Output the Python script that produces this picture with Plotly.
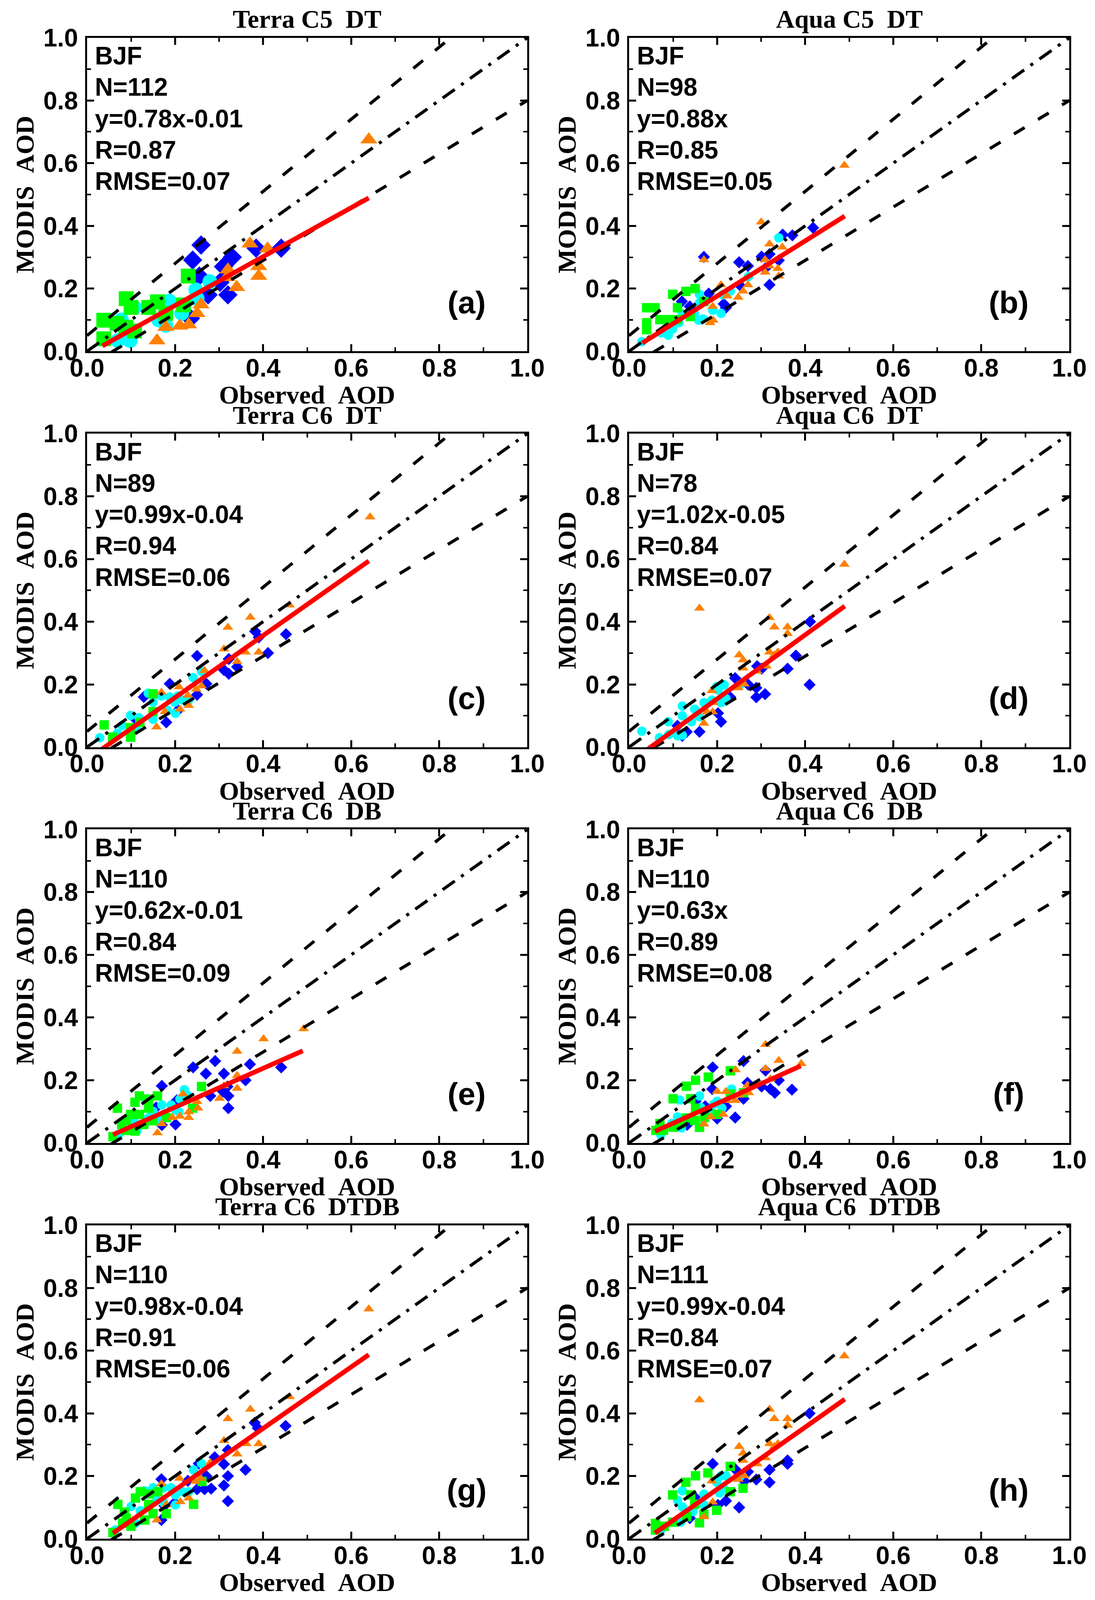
import plotly.graph_objects as go

# panel texts
TITLES = ["Terra C5  DT", "Aqua C5  DT", "Terra C6  DT", "Aqua C6  DT",
          "Terra C6  DB", "Aqua C6  DB", "Terra C6  DTDB", "Aqua C6  DTDB"]
LABELS = ["(a)", "(b)", "(c)", "(d)", "(e)", "(f)", "(g)", "(h)"]
SITE = "BJF"
N_VALUES = [112, 98, 89, 78, 110, 110, 110, 111]
EQUATIONS = ["y=0.78x-0.01", "y=0.88x", "y=0.99x-0.04", "y=1.02x-0.05",
             "y=0.62x-0.01", "y=0.63x", "y=0.98x-0.04", "y=0.99x-0.04"]
R_VALUES = ["0.87", "0.85", "0.94", "0.84", "0.84", "0.89", "0.91", "0.84"]
RMSE_VALUES = ["0.07", "0.05", "0.06", "0.07", "0.09", "0.08", "0.06", "0.07"]

# regression lines
FIT_SLOPE = [0.78, 0.88, 0.99, 1.02, 0.62, 0.63, 0.98, 0.99]
FIT_INTERCEPT = [-0.01, 0.0, -0.04, -0.05, -0.01, 0.0, -0.04, -0.04]
FIT_XMIN = [0.035, 0.03, 0.03, 0.03, 0.059, 0.059, 0.059, 0.059]
FIT_XMAX = [0.64, 0.49, 0.64, 0.49, 0.49, 0.39, 0.64, 0.49]

# expected error envelope +-(0.05+0.15*AOD)
EE_A = 0.05
EE_B = 0.15

# (a) Terra C5 DT
A_SQ_X = [0.038, 0.038, 0.089, 0.068, 0.088, 0.108, 0.16, 0.14, 0.179, 0.219, 0.23, 0.10]
A_SQ_Y = [0.040, 0.099, 0.168, 0.089, 0.077, 0.065, 0.158, 0.14, 0.121, 0.148, 0.24, 0.14]
A_CI_X = [0.07, 0.098, 0.108, 0.078, 0.179, 0.187, 0.215, 0.247, 0.25, 0.279, 0.163]
A_CI_Y = [0.034, 0.034, 0.14, 0.10, 0.083, 0.16, 0.121, 0.196, 0.168, 0.222, 0.10]
A_DI_X = [0.259, 0.24, 0.255, 0.275, 0.32, 0.31, 0.33, 0.384, 0.441, 0.302, 0.235]
A_DI_Y = [0.339, 0.291, 0.24, 0.18, 0.18, 0.27, 0.30, 0.329, 0.329, 0.22, 0.105]
A_TR_X = [0.159, 0.37, 0.41, 0.39, 0.39, 0.32, 0.318, 0.34, 0.259, 0.25, 0.231, 0.211, 0.179, 0.64]
A_TR_Y = [0.034, 0.343, 0.327, 0.271, 0.24, 0.26, 0.236, 0.204, 0.149, 0.121, 0.085, 0.081, 0.077, 0.675]

# (b) Aqua C5 DT
B_SQ_X = [0.040, 0.059, 0.040, 0.040, 0.070, 0.089, 0.110, 0.099, 0.129, 0.150, 0.110, 0.139, 0.170]
B_SQ_Y = [0.139, 0.139, 0.091, 0.069, 0.101, 0.101, 0.101, 0.182, 0.191, 0.200, 0.139, 0.111, 0.159]
B_CI_X = [0.029, 0.073, 0.089, 0.099, 0.113, 0.121, 0.149, 0.160, 0.158, 0.168, 0.160, 0.190, 0.209,
          0.213, 0.230, 0.271, 0.340]
B_CI_Y = [0.031, 0.059, 0.051, 0.071, 0.091, 0.119, 0.119, 0.182, 0.099, 0.103, 0.155, 0.131, 0.121,
          0.180, 0.192, 0.238, 0.362]
B_DI_X = [0.120, 0.138, 0.170, 0.181, 0.215, 0.220, 0.250, 0.270, 0.252, 0.301, 0.319, 0.309, 0.340,
          0.349, 0.371, 0.418, 0.319]
B_DI_Y = [0.159, 0.143, 0.301, 0.184, 0.151, 0.139, 0.284, 0.272, 0.210, 0.302, 0.310, 0.264, 0.290,
          0.372, 0.370, 0.394, 0.212]
B_TR_X = [0.489, 0.300, 0.170, 0.319, 0.348, 0.309, 0.319, 0.338, 0.309, 0.340, 0.270, 0.209, 0.259,
          0.223, 0.248, 0.190, 0.184, 0.191]
B_TR_Y = [0.593, 0.412, 0.292, 0.342, 0.332, 0.292, 0.272, 0.264, 0.252, 0.240, 0.212, 0.212, 0.192,
          0.176, 0.172, 0.143, 0.091, 0.099]

# (c) Terra C6 DT
C_SQ_X = [0.039, 0.058, 0.099, 0.099, 0.120, 0.150, 0.150]
C_SQ_Y = [0.071, 0.032, 0.032, 0.062, 0.079, 0.170, 0.113]
C_CI_X = [0.029, 0.069, 0.080, 0.099, 0.118, 0.111, 0.139, 0.150, 0.150, 0.169, 0.182, 0.201, 0.188,
          0.199, 0.218, 0.231, 0.241, 0.260, 0.207]
C_CI_Y = [0.030, 0.044, 0.069, 0.101, 0.094, 0.062, 0.172, 0.143, 0.089, 0.163, 0.118, 0.108, 0.160,
          0.143, 0.150, 0.150, 0.222, 0.241, 0.163]
C_DI_X = [0.129, 0.109, 0.180, 0.188, 0.207, 0.250, 0.271, 0.250, 0.322, 0.311, 0.322, 0.341, 0.382,
          0.390, 0.452, 0.411]
C_DI_Y = [0.160, 0.091, 0.079, 0.202, 0.118, 0.291, 0.202, 0.167, 0.281, 0.246, 0.234, 0.256, 0.369,
          0.350, 0.360, 0.300]
C_TR_X = [0.643, 0.460, 0.371, 0.320, 0.311, 0.360, 0.390, 0.341, 0.267, 0.209, 0.260, 0.248, 0.169,
          0.229, 0.231, 0.211, 0.158, 0.177]
C_TR_Y = [0.734, 0.453, 0.414, 0.382, 0.313, 0.303, 0.303, 0.273, 0.244, 0.192, 0.195, 0.185, 0.175,
          0.165, 0.133, 0.121, 0.064, 0.113]

# (d) Aqua C6 DT
D_SQ_X = []
D_SQ_Y = []
D_CI_X = [0.029, 0.069, 0.089, 0.090, 0.110, 0.121, 0.121, 0.121, 0.149, 0.142, 0.160, 0.170, 0.188,
          0.202, 0.216, 0.220, 0.209, 0.252, 0.199]
D_CI_Y = [0.051, 0.030, 0.081, 0.040, 0.036, 0.038, 0.131, 0.100, 0.121, 0.081, 0.097, 0.142, 0.150,
          0.182, 0.199, 0.155, 0.142, 0.199, 0.193]
D_DI_X = [0.110, 0.121, 0.131, 0.160, 0.202, 0.209, 0.230, 0.241, 0.271, 0.289, 0.289, 0.309, 0.291,
          0.301, 0.360, 0.379, 0.410, 0.411]
D_DI_Y = [0.068, 0.036, 0.049, 0.049, 0.108, 0.081, 0.159, 0.220, 0.199, 0.189, 0.159, 0.169, 0.258,
          0.250, 0.250, 0.292, 0.199, 0.400]
D_TR_X = [0.489, 0.160, 0.319, 0.330, 0.360, 0.360, 0.250, 0.259, 0.259, 0.319, 0.338, 0.330, 0.312,
          0.291, 0.262, 0.248, 0.188, 0.191, 0.177, 0.190, 0.170]
D_TR_Y = [0.583, 0.443, 0.413, 0.383, 0.383, 0.362, 0.294, 0.278, 0.252, 0.303, 0.303, 0.294, 0.258,
          0.242, 0.201, 0.189, 0.180, 0.142, 0.112, 0.112, 0.076]

# (e) Terra C6 DB
E_SQ_X = [0.059, 0.069, 0.079, 0.090, 0.099, 0.089, 0.119, 0.109, 0.119, 0.140, 0.140, 0.160, 0.129,
          0.150, 0.180, 0.260, 0.240, 0.109]
E_SQ_Y = [0.020, 0.111, 0.059, 0.040, 0.091, 0.071, 0.091, 0.130, 0.150, 0.140, 0.111, 0.150, 0.059,
          0.071, 0.081, 0.180, 0.111, 0.038]
E_CI_X = [0.072, 0.113, 0.119, 0.107, 0.140, 0.150, 0.163, 0.170, 0.191, 0.201, 0.209, 0.211, 0.221,
          0.228, 0.133]
E_CI_Y = [0.028, 0.038, 0.055, 0.067, 0.081, 0.101, 0.073, 0.121, 0.121, 0.105, 0.099, 0.140, 0.170,
          0.152, 0.140]
E_DI_X = [0.170, 0.241, 0.270, 0.291, 0.311, 0.370, 0.441, 0.360, 0.319, 0.280, 0.321, 0.309, 0.321,
          0.201, 0.170, 0.204, 0.157]
E_DI_Y = [0.182, 0.241, 0.221, 0.261, 0.221, 0.251, 0.241, 0.200, 0.180, 0.150, 0.150, 0.164, 0.111,
          0.059, 0.057, 0.136, 0.113]
E_TR_X = [0.492, 0.401, 0.341, 0.341, 0.341, 0.311, 0.301, 0.250, 0.252, 0.231, 0.231, 0.211, 0.194,
          0.170, 0.160, 0.218]
E_TR_Y = [0.364, 0.332, 0.292, 0.215, 0.174, 0.182, 0.142, 0.132, 0.111, 0.099, 0.081, 0.085, 0.081,
          0.061, 0.032, 0.156]

# (f) Aqua C6 DB
F_SQ_X = [0.061, 0.078, 0.070, 0.100, 0.119, 0.130, 0.149, 0.160, 0.151, 0.171, 0.100, 0.140, 0.130,
          0.151, 0.180, 0.230, 0.200, 0.260, 0.230]
F_SQ_Y = [0.040, 0.040, 0.062, 0.050, 0.062, 0.080, 0.072, 0.050, 0.111, 0.081, 0.141, 0.141, 0.181,
          0.200, 0.210, 0.230, 0.091, 0.160, 0.156]
F_CI_X = [0.072, 0.097, 0.119, 0.110, 0.115, 0.160, 0.163, 0.173, 0.192, 0.200, 0.211, 0.233, 0.187]
F_CI_Y = [0.026, 0.062, 0.048, 0.083, 0.137, 0.150, 0.113, 0.097, 0.123, 0.133, 0.111, 0.172, 0.097]
F_DI_X = [0.190, 0.260, 0.189, 0.151, 0.173, 0.220, 0.200, 0.241, 0.260, 0.269, 0.301, 0.321, 0.331,
          0.340, 0.370, 0.310, 0.132]
F_DI_Y = [0.241, 0.261, 0.172, 0.133, 0.117, 0.117, 0.078, 0.081, 0.141, 0.192, 0.180, 0.172, 0.160,
          0.200, 0.170, 0.231, 0.058]
F_TR_X = [0.310, 0.340, 0.391, 0.310, 0.321, 0.242, 0.269, 0.272, 0.200, 0.220, 0.241, 0.223, 0.214,
          0.186, 0.170, 0.250]
F_TR_Y = [0.314, 0.263, 0.253, 0.237, 0.204, 0.233, 0.184, 0.160, 0.164, 0.164, 0.135, 0.135, 0.091,
          0.083, 0.060, 0.152]

# (g) Terra C6 DTDB
G_SQ_X = [0.059, 0.070, 0.081, 0.089, 0.100, 0.110, 0.121, 0.131, 0.140, 0.140, 0.150, 0.161, 0.180,
          0.242, 0.261, 0.085]
G_SQ_Y = [0.020, 0.110, 0.050, 0.065, 0.040, 0.130, 0.150, 0.060, 0.110, 0.143, 0.080, 0.150, 0.080,
          0.110, 0.183, 0.085]
G_CI_X = [0.064, 0.100, 0.121, 0.110, 0.131, 0.150, 0.159, 0.174, 0.191, 0.201, 0.201, 0.218, 0.231,
          0.242, 0.260, 0.174]
G_CI_Y = [0.028, 0.103, 0.090, 0.050, 0.153, 0.163, 0.123, 0.163, 0.163, 0.108, 0.140, 0.150, 0.150,
          0.220, 0.240, 0.115]
G_DI_X = [0.381, 0.388, 0.451, 0.320, 0.290, 0.311, 0.360, 0.320, 0.311, 0.282, 0.267, 0.250, 0.271,
          0.254, 0.169, 0.229, 0.320, 0.169, 0.176, 0.199]
G_DI_Y = [0.370, 0.353, 0.360, 0.283, 0.260, 0.238, 0.220, 0.200, 0.170, 0.160, 0.158, 0.158, 0.200,
          0.240, 0.190, 0.185, 0.120, 0.060, 0.105, 0.115]
G_TR_X = [0.640, 0.460, 0.371, 0.320, 0.311, 0.362, 0.390, 0.341, 0.280, 0.210, 0.258, 0.246, 0.169,
          0.231, 0.212, 0.180, 0.159]
G_TR_Y = [0.733, 0.453, 0.413, 0.383, 0.313, 0.303, 0.303, 0.270, 0.243, 0.193, 0.193, 0.183, 0.175,
          0.130, 0.118, 0.108, 0.060]

# (h) Aqua C6 DTDB
H_SQ_X = [0.060, 0.060, 0.080, 0.099, 0.129, 0.151, 0.179, 0.230, 0.140, 0.149, 0.160, 0.170, 0.131,
          0.199, 0.230, 0.259, 0.099]
H_SQ_Y = [0.049, 0.028, 0.040, 0.140, 0.180, 0.201, 0.210, 0.231, 0.140, 0.110, 0.051, 0.078, 0.070,
          0.091, 0.150, 0.161, 0.053]
H_CI_X = [0.071, 0.117, 0.110, 0.121, 0.121, 0.145, 0.170, 0.170, 0.199, 0.206, 0.220, 0.209, 0.252,
          0.216]
H_CI_Y = [0.025, 0.053, 0.123, 0.153, 0.102, 0.087, 0.142, 0.108, 0.180, 0.146, 0.201, 0.201, 0.199,
          0.159]
H_DI_X = [0.410, 0.360, 0.360, 0.319, 0.319, 0.289, 0.270, 0.241, 0.190, 0.262, 0.220, 0.250, 0.202,
          0.149, 0.138]
H_DI_Y = [0.400, 0.250, 0.239, 0.220, 0.180, 0.189, 0.214, 0.222, 0.239, 0.184, 0.121, 0.100, 0.108,
          0.133, 0.066]
H_TR_X = [0.489, 0.160, 0.319, 0.330, 0.360, 0.360, 0.250, 0.259, 0.259, 0.319, 0.338, 0.330, 0.310,
          0.291, 0.262, 0.248, 0.188, 0.190, 0.170]
H_TR_Y = [0.583, 0.443, 0.413, 0.383, 0.383, 0.362, 0.294, 0.273, 0.250, 0.303, 0.303, 0.294, 0.258,
          0.239, 0.201, 0.189, 0.184, 0.117, 0.070]

PANELS = [
    (A_SQ_X, A_SQ_Y, A_CI_X, A_CI_Y, A_DI_X, A_DI_Y, A_TR_X, A_TR_Y),
    (B_SQ_X, B_SQ_Y, B_CI_X, B_CI_Y, B_DI_X, B_DI_Y, B_TR_X, B_TR_Y),
    (C_SQ_X, C_SQ_Y, C_CI_X, C_CI_Y, C_DI_X, C_DI_Y, C_TR_X, C_TR_Y),
    (D_SQ_X, D_SQ_Y, D_CI_X, D_CI_Y, D_DI_X, D_DI_Y, D_TR_X, D_TR_Y),
    (E_SQ_X, E_SQ_Y, E_CI_X, E_CI_Y, E_DI_X, E_DI_Y, E_TR_X, E_TR_Y),
    (F_SQ_X, F_SQ_Y, F_CI_X, F_CI_Y, F_DI_X, F_DI_Y, F_TR_X, F_TR_Y),
    (G_SQ_X, G_SQ_Y, G_CI_X, G_CI_Y, G_DI_X, G_DI_Y, G_TR_X, G_TR_Y),
    (H_SQ_X, H_SQ_Y, H_CI_X, H_CI_Y, H_DI_X, H_DI_Y, H_TR_X, H_TR_Y),
]

GREEN = "#00FF00"
CYAN = "#00FFFF"
BLUE = "#0000FF"
ORANGE = "#FF8000"
RED = "#FF0000"

SANS = "Liberation Sans, Arial, sans-serif"
SERIF = "Liberation Serif, Times New Roman, serif"

# reference frame in pixels; the figure itself fills the page
W, H = 2804, 4280
PLOT_L, PLOT_T, PLOT_W, PLOT_H = 216, 93, 1134, 842
COL_STEP, ROW_STEP = 1396, 1063


def fx(px):
    return px / W


def fy(py):
    return 1 - py / H


fig = go.Figure()
layout = dict(margin=dict(l=0, r=0, t=0, b=0, autoexpand=False),
              paper_bgcolor="white", plot_bgcolor="white", showlegend=False)
annotations = []

for i, data in enumerate(PANELS):
    row, col = divmod(i, 2)
    n = i + 1
    xa, ya = f"x{n}", f"y{n}"
    sq_x, sq_y, ci_x, ci_y, di_x, di_y, tr_x, tr_y = data
    msize = 38 if i == 0 else 24

    # scatter points
    for xs, ys, sym, color in [(di_x, di_y, "diamond", BLUE),
                               (ci_x, ci_y, "circle", CYAN),
                               (sq_x, sq_y, "square", GREEN),
                               (tr_x, tr_y, "triangle-up", ORANGE)]:
        fig.add_trace(go.Scatter(x=xs, y=ys, mode="markers", xaxis=xa, yaxis=ya,
                                 marker=dict(symbol=sym, size=msize, color=color,
                                             line=dict(width=0))))

    # 1:1 line and EE envelope
    fig.add_trace(go.Scatter(x=[0, 1], y=[EE_A, EE_A + (1 + EE_B)], mode="lines",
                             xaxis=xa, yaxis=ya,
                             line=dict(color="black", width=8, dash="32px,40px")))
    fig.add_trace(go.Scatter(x=[0, 1], y=[-EE_A, (1 - EE_B) - EE_A], mode="lines",
                             xaxis=xa, yaxis=ya,
                             line=dict(color="black", width=8, dash="32px,40px")))
    fig.add_trace(go.Scatter(x=[0, 1], y=[0, 1], mode="lines", xaxis=xa, yaxis=ya,
                             line=dict(color="black", width=8, dash="38px,20px,8px,20px")))

    # regression line
    fit_x = [FIT_XMIN[i], FIT_XMAX[i]]
    fit_y = [FIT_SLOPE[i] * v + FIT_INTERCEPT[i] for v in fit_x]
    fig.add_trace(go.Scatter(x=fit_x, y=fit_y, mode="lines", xaxis=xa, yaxis=ya,
                             line=dict(color=RED, width=12)))

    left = PLOT_L + col * COL_STEP
    top = PLOT_T + row * ROW_STEP
    axis_common = dict(range=[0, 1], showline=True, linewidth=5, linecolor="black",
                       mirror="ticks", ticks="inside", ticklen=18, tickwidth=5,
                       tickcolor="black", tick0=0, dtick=0.2, tickformat=".1f",
                       minor=dict(dtick=0.1, ticks="inside", ticklen=10, tickwidth=4,
                                  tickcolor="black"),
                       showgrid=False, zeroline=False, fixedrange=True, automargin=False,
                       tickfont=dict(family=SANS, size=64, color="black", weight="bold"))
    layout[f"xaxis{n}"] = dict(axis_common, domain=[fx(left), fx(left + PLOT_W)], anchor=ya,
                               ticklabelstandoff=-17)
    layout[f"yaxis{n}"] = dict(axis_common, domain=[fy(top + PLOT_H), fy(top)], anchor=xa,
                               ticklabelstandoff=5)

    # statistics text
    lines = [SITE, f"N={N_VALUES[i]}", EQUATIONS[i], f"R={R_VALUES[i]}",
             f"RMSE={RMSE_VALUES[i]}"]
    for k, txt in enumerate(lines):
        annotations.append(dict(x=0.016, y=0.942 - 0.1 * k, xref=xa, yref=ya, text=txt,
                                showarrow=False, xanchor="left", yanchor="middle",
                                font=dict(family=SANS, size=64, color="black",
                                          weight="bold")))
    annotations.append(dict(x=0.862, y=0.156, xref=xa, yref=ya, text=LABELS[i],
                            showarrow=False, xanchor="center", yanchor="middle",
                            font=dict(family=SANS, size=80, color="black", weight="bold")))

    # titles
    serif_font = dict(family=SERIF, size=66, color="black", weight="bold")
    annotations.append(dict(x=fx(left + PLOT_W / 2), y=fy(43 + row * ROW_STEP),
                            xref="paper", yref="paper", text=TITLES[i], showarrow=False,
                            xanchor="center", yanchor="middle", font=serif_font))
    annotations.append(dict(x=fx(left + PLOT_W / 2), y=fy(1052 + row * ROW_STEP),
                            xref="paper", yref="paper", text="Observed\u00a0\u00a0AOD",
                            showarrow=False, xanchor="center", yanchor="middle",
                            font=serif_font))
    annotations.append(dict(x=fx(56 + col * COL_STEP), y=fy(top + PLOT_H / 2),
                            xref="paper", yref="paper", text="MODIS\u00a0\u00a0AOD",
                            textangle=-90, showarrow=False, xanchor="center",
                            yanchor="middle", font=serif_font))

layout["annotations"] = annotations
fig.update_layout(**layout)
fig.write_html("out.html")
